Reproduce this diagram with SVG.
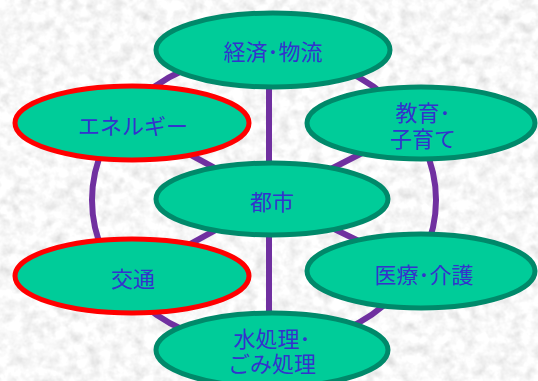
<svg xmlns="http://www.w3.org/2000/svg" width="538" height="381" viewBox="0 0 538 381">
<defs>
<filter id="tex" x="0" y="0" width="538" height="381" filterUnits="userSpaceOnUse">
<feTurbulence type="fractalNoise" baseFrequency="0.09" numOctaves="3" seed="4"/>
<feColorMatrix type="matrix" values="0.25 0.25 0.25 0 0.56  0.25 0.25 0.25 0 0.56  0.25 0.25 0.25 0 0.56  0 0 0 0 1"/>
</filter>
<style>
.node ellipse{fill:#00CC99;stroke:#00896A;stroke-width:5}
.node.red ellipse{stroke:#FF0000}
.node text{font-family:"Noto Sans CJK JP","Noto Sans",sans-serif;font-size:22px;fill:#3333CC;text-anchor:middle;dominant-baseline:central}
.conn{stroke:#7030A0;stroke-width:6;fill:none}
</style>
</defs>
<rect width="538" height="381" filter="url(#tex)"/>
<g id="connectors" class="conn">
<ellipse cx="264" cy="200" rx="172" ry="147"/>
<line x1="269" y1="50" x2="269" y2="350"/>
<line x1="272" y1="199" x2="132" y2="123"/>
<line x1="272" y1="199" x2="421" y2="123"/>
<line x1="272" y1="199" x2="132" y2="276"/>
<line x1="272" y1="199" x2="421" y2="271"/>
</g>
<g id="node-keizai" class="node"><ellipse cx="273" cy="50" rx="117" ry="37"/><text x="273" y="50">経済･物流</text></g>
<g id="node-energy" class="node red"><ellipse cx="132" cy="123" rx="117" ry="37"/><text x="133" y="124">エネルギー</text></g>
<g id="node-kyoiku" class="node"><ellipse cx="421" cy="123" rx="114" ry="36"/><text x="423" y="111"><tspan x="423" y="111">教育･</tspan><tspan x="423" y="137">子育て</tspan></text></g>
<g id="node-toshi" class="node"><ellipse cx="272" cy="199" rx="116" ry="36"/><text x="272" y="200">都市</text></g>
<g id="node-kotsu" class="node red"><ellipse cx="132" cy="276" rx="117" ry="37"/><text x="133" y="277">交通</text></g>
<g id="node-iryo" class="node"><ellipse cx="421" cy="271" rx="114" ry="37"/><text x="424" y="273">医療･介護</text></g>
<g id="node-mizu" class="node"><ellipse cx="272" cy="350" rx="116" ry="37"/><text x="272" y="337"><tspan x="272" y="337">水処理･</tspan><tspan x="272" y="362">ごみ処理</tspan></text></g>
</svg>
